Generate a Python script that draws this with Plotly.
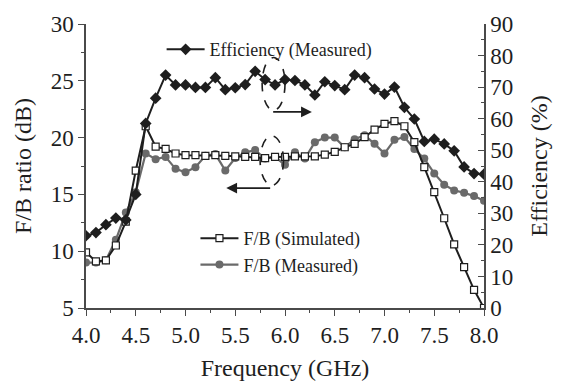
import plotly.graph_objects as go

freq = [round(4.0 + 0.1 * i, 1) for i in range(41)]

fb_simulated = [9.9, 9.1, 9.2, 10.5, 12.6, 17.1, 21.0, 19.2, 19.0, 18.6,
                18.45, 18.45, 18.4, 18.45, 18.4, 18.35, 18.3, 18.3, 18.2, 18.3,
                18.3, 18.35, 18.35, 18.35, 18.5, 18.75, 19.15, 19.45, 20.05, 20.7,
                21.2, 21.45, 21.0, 19.6, 17.4, 15.2, 12.9, 10.6, 8.6, 6.6, 5.0]

fb_measured = [9.0, 9.0, 9.2, 11.0, 13.4, 15.2, 18.6, 18.1, 18.3, 17.25,
               16.95, 17.4, 18.4, 18.55, 17.1, 18.2, 18.7, 18.9, 18.15, 18.3,
               17.6, 18.7, 18.15, 19.6, 20.0, 20.0, 19.15, 19.85, 20.2, 19.45,
               18.6, 19.8, 20.05, 19.0, 18.15, 16.85, 15.85, 15.35, 15.15, 14.85, 14.45]

eff_measured = [22.9, 23.9, 26.4, 28.5, 27.9, 36.0, 58.5, 66.5, 73.8, 70.7,
                70.7, 69.9, 69.9, 73.0, 69.2, 69.8, 70.8, 75.0, 72.4, 70.7,
                72.4, 72.1, 70.7, 67.5, 71.7, 70.5, 69.2, 73.8, 73.0, 69.4,
                67.8, 70.0, 63.6, 59.9, 52.8, 53.5, 52.0, 49.8, 44.7, 42.6, 42.4]

x_ticks = [4.0, 4.5, 5.0, 5.5, 6.0, 6.5, 7.0, 7.5, 8.0]

INK = "#1e1e1e"
GRAY = "#6a6a6a"
AX = "#4a4a4a"
FONT = "Liberation Serif"

fig = go.Figure()

fig.add_trace(go.Scatter(
    x=freq, y=fb_measured, name="F/B (Measured)", mode="lines+markers",
    line=dict(color=GRAY, width=2.2),
    marker=dict(symbol="circle", size=8, color=GRAY),
    legend="legend2", showlegend=True))

fig.add_trace(go.Scatter(
    x=freq, y=fb_simulated, name="F/B (Simulated)", mode="lines+markers",
    line=dict(color=INK, width=2),
    marker=dict(symbol="square", size=7, color="white", line=dict(color=INK, width=1.2)),
    legend="legend2", showlegend=True))

fig.add_trace(go.Scatter(
    x=freq, y=eff_measured, name="Efficiency (Measured)", mode="lines+markers",
    line=dict(color=INK, width=2),
    marker=dict(symbol="diamond", size=9, color=INK),
    yaxis="y2", legend="legend", showlegend=True))

# dashed ellipses
fig.add_shape(type="circle", xref="x", yref="y", x0=5.77, x1=6.0, y0=22.4, y1=27.05,
              line=dict(color=INK, width=1.6, dash="dash"))
fig.add_shape(type="circle", xref="x", yref="y", x0=5.75, x1=5.985, y0=15.8, y1=20.15,
              line=dict(color=INK, width=1.6, dash="dash"))

# arrows
fig.add_annotation(x=6.27, y=22.26, ax=5.866, ay=22.26, xref="x", yref="y",
                   axref="x", ayref="y", showarrow=True, arrowhead=2, arrowsize=1.2,
                   arrowwidth=1.8, arrowcolor=INK, text="")
fig.add_annotation(x=5.41, y=15.56, ax=5.866, ay=15.56, xref="x", yref="y",
                   axref="x", ayref="y", showarrow=True, arrowhead=2, arrowsize=1.2,
                   arrowwidth=1.8, arrowcolor=INK, text="")

axis_common = dict(showline=True, linecolor=AX, linewidth=1.5, showgrid=False,
                   zeroline=False, tickcolor=AX, tickwidth=1.3,
                   tickfont=dict(family=FONT, size=23, color=INK))

fig.update_layout(
    width=564, height=389,
    margin=dict(l=86, r=80, t=22, b=71),
    paper_bgcolor="white", plot_bgcolor="white",
    font=dict(family=FONT, color=INK),
    showlegend=True,
    xaxis=dict(range=[4.0, 8.0], tickvals=x_ticks, tickformat=".1f",
               ticks="outside", ticklen=6,
               minor=dict(ticks="outside", ticklen=3, dtick=0.25, tick0=4.0, tickcolor=AX),
               title=dict(text="Frequency (GHz)", font=dict(family=FONT, size=24, color=INK),
                          standoff=12),
               **axis_common),
    yaxis=dict(range=[5, 30], dtick=5, tick0=5, ticks="outside", ticklen=6,
               minor=dict(ticks="outside", ticklen=3, dtick=2.5, tick0=5, tickcolor=AX),
               title=dict(text="F/B ratio (dB)", font=dict(family=FONT, size=24, color=INK),
                          standoff=12),
               **axis_common),
    yaxis2=dict(range=[0, 90], dtick=10, tick0=0, overlaying="y", side="right",
                ticks="inside", ticklen=6,
                minor=dict(ticks="inside", ticklen=3, dtick=5, tick0=0, tickcolor=AX),
                title=dict(text="Efficiency (%)", font=dict(family=FONT, size=24, color=INK),
                           standoff=18),
                **axis_common),
    legend=dict(x=0.19, y=0.975, xanchor="left", yanchor="top", visible=True,
                bgcolor="rgba(0,0,0,0)", font=dict(family=FONT, size=18, color=INK),
                itemwidth=38, tracegroupgap=0),
    legend2=dict(x=0.275, y=0.31, xanchor="left", yanchor="top", visible=True,
                 bgcolor="rgba(0,0,0,0)", font=dict(family=FONT, size=18, color=INK),
                 itemwidth=38, tracegroupgap=0, traceorder="reversed"),
)

fig.write_html("out.html")
